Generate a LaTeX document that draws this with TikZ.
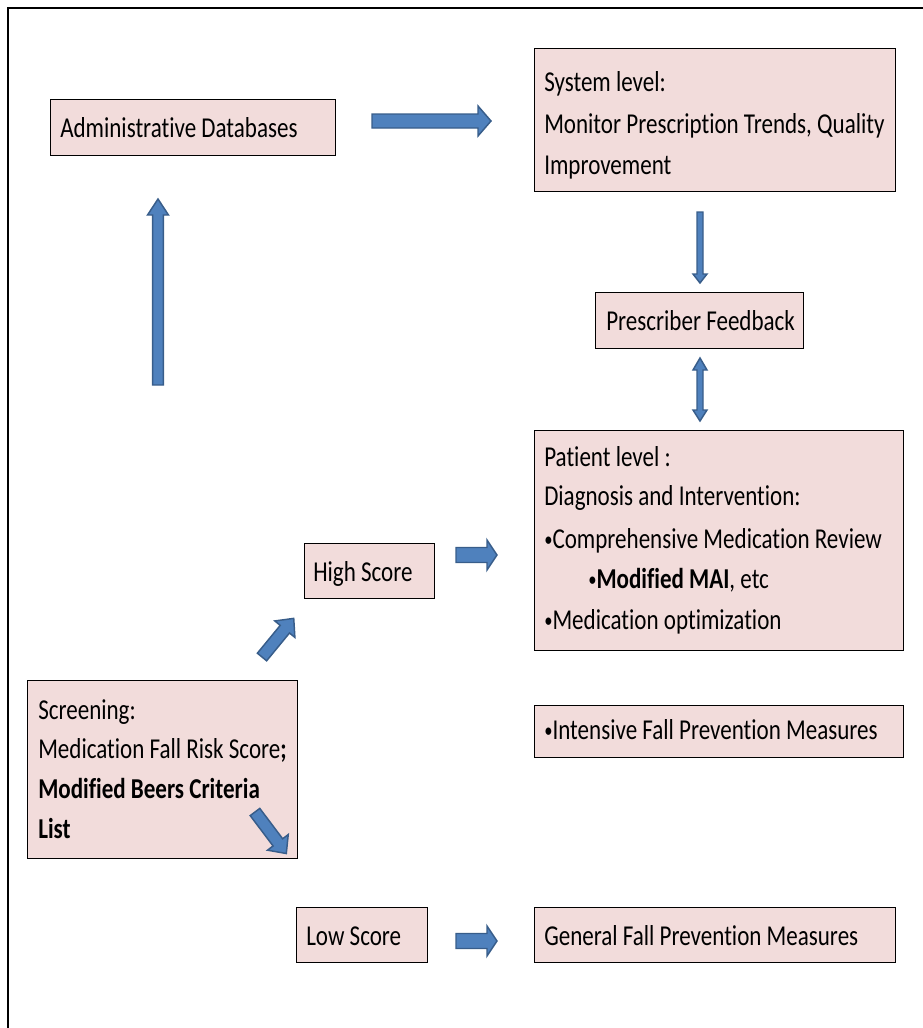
\documentclass[tikz,border=0pt]{standalone}
\usepackage{fontspec}
\setmainfont{Carlito}[FakeStretch=0.8, Ligatures=NoCommon]
\usetikzlibrary{calc}
\definecolor{boxfill}{HTML}{F2DCDB}
\definecolor{arrfill}{HTML}{4F81BD}
\definecolor{arrline}{HTML}{385D8A}
\tikzset{
  box/.style={draw=black, fill=boxfill, line width=1pt, rectangle, inner sep=0pt},
  txt/.style={anchor=base west, inner sep=0pt, font=\fontsize{21.6}{25}\selectfont},
  barrow/.style={draw=arrline, fill=arrfill, line width=1.1pt, line join=miter},
}
\newcommand\bul{\raisebox{0.12ex}{\scalebox{0.72}{•}}}
% start, length, angle, shaft half width, head half width, head length
\newcommand\blockarrow[6]{%
  \begin{scope}[shift={(#1)},rotate=#3]
    \draw[barrow] (0,-#4) -- ({#2-#6},-#4) -- ({#2-#6},-#5) -- (#2,0) -- ({#2-#6},#5) -- ({#2-#6},#4) -- (0,#4) -- cycle;
  \end{scope}}
% name, x1, y1, x2, y2
\newcommand\boxat[5]{%
  \node[box, anchor=north west, minimum width={(#4-#2)*0.75pt}, minimum height={(#5-#3)*0.75pt}] (#1) at (#2,#3) {};}
\begin{document}
\begin{tikzpicture}[x=0.75pt, y=-0.75pt]
\useasboundingbox (0,0) rectangle (922,1028);
% frame
\draw[line width=1.5pt] (8,1035) -- (8,8) -- (930,8);

% boxes
\boxat{admin}{50}{99}{335}{155}
\boxat{sys}{534}{48}{895}{191}
\boxat{presc}{595}{292}{803}{348}
\boxat{pat}{534}{430}{903}{650}
\boxat{intens}{534}{705}{903}{757}
\boxat{screen}{27}{680}{297}{858}
\boxat{high}{304}{543}{434}{598}
\boxat{low}{296}{907}{427}{962}
\boxat{gen}{534}{907}{895}{962}

% texts
\node[txt] at ($(admin.north west)+(10,38)$) {Administrative Databases};
\node[txt] at ($(sys.north west)+(10,43)$) {System level:};
\node[txt] at ($(sys.north west)+(10,85)$) {Monitor Prescription Trends, Quality};
\node[txt] at ($(sys.north west)+(10,126)$) {Improvement};
\node[txt] at ($(presc.north west)+(11,38)$) {Prescriber Feedback};
\node[txt] at ($(pat.north west)+(10,36)$) {Patient level :};
\node[txt] at ($(pat.north west)+(10,75)$) {Diagnosis and Intervention:};
\node[txt] at ($(pat.north west)+(10,118)$) {\bul Comprehensive Medication Review};
\node[txt] at ($(pat.north west)+(54,158)$) {\bul\textbf{Modified MAI}, etc};
\node[txt] at ($(pat.north west)+(10,199)$) {\bul Medication optimization};
\node[txt] at ($(intens.north west)+(10,34)$) {\bul Intensive Fall Prevention Measures};
\node[txt] at ($(high.north west)+(9,38)$) {High Score};
\node[txt] at ($(screen.north west)+(11,39)$) {Screening:};
\node[txt] at ($(screen.north west)+(11,78)$) {Medication Fall Risk Score\textbf{;}};
\node[txt] at ($(screen.north west)+(11,118)$) {\textbf{Modified Beers Criteria}};
\node[txt] at ($(screen.north west)+(11,158)$) {\textbf{List}};
\node[txt] at ($(low.north west)+(10,38)$) {Low Score};
\node[txt] at ($(gen.north west)+(10,38)$) {General Fall Prevention Measures};

% block arrows
\blockarrow{372,121}{119}{0}{7}{15}{13}
\blockarrow{158,385}{186}{90}{5.3}{10.5}{16}
\blockarrow{700,212}{71}{-90}{3}{7}{9}
\draw[barrow] (697,370) -- (693,370) -- (700,358) -- (707,370) -- (703,370) -- (703,410) -- (707,410) -- (700,421) -- (693,410) -- (697,410) -- cycle;
\blockarrow{456,555}{41}{0}{7.5}{15}{10}
\blockarrow{456,941}{41}{0}{7.5}{15}{10}
\blockarrow{262,657}{50}{50.6}{6}{13}{14}
\blockarrow{255,812}{52}{-53}{6}{13}{14}
\end{tikzpicture}
\end{document}
